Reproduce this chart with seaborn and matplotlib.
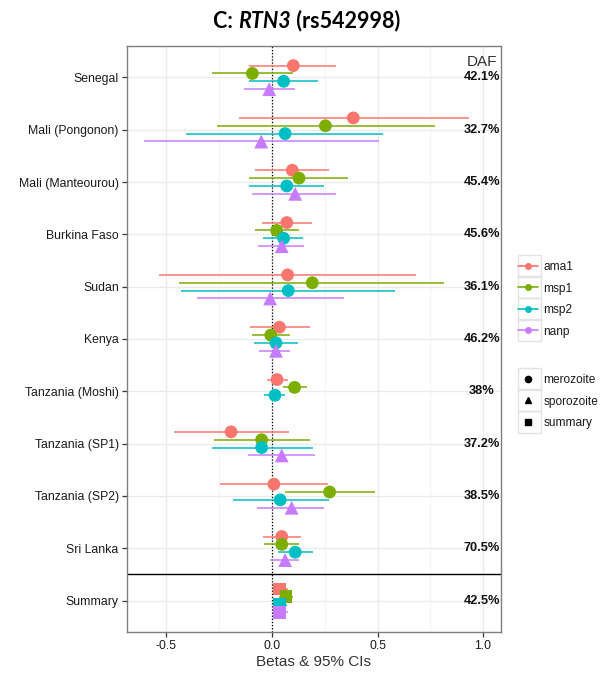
import numpy as np
import pandas as pd
import matplotlib
matplotlib.use("Agg")
import matplotlib.pyplot as plt
from matplotlib.lines import Line2D
from matplotlib.patches import Rectangle
import seaborn as sns

nan = np.nan

populations = ["Senegal", "Mali (Pongonon)", "Mali (Manteourou)", "Burkina Faso", "Sudan",
               "Kenya", "Tanzania (Moshi)", "Tanzania (SP1)", "Tanzania (SP2)", "Sri Lanka",
               "Summary"]
daf = ["42.1%", "32.7%", "45.4%", "45.6%", "36.1%", "46.2%", "38%", "37.2%", "38.5%",
       "70.5%", "42.5%"]
antigens = ["ama1", "msp1", "msp2", "nanp"]
stages = ["merozoite", "sporozoite", "summary"]

ama1_beta = [0.101, 0.385, 0.096, 0.070, 0.074, 0.035, 0.024, -0.194, 0.009, 0.046, 0.036]
ama1_lo = [-0.107, -0.156, -0.079, -0.047, -0.535, -0.103, -0.022, -0.466, -0.245, -0.041, 0.006]
ama1_hi = [0.303, 0.932, 0.272, 0.188, 0.682, 0.178, 0.074, 0.082, 0.267, 0.136, 0.074]

msp1_beta = [-0.093, 0.253, 0.128, 0.022, 0.191, -0.006, 0.107, -0.049, 0.273, 0.046, 0.065]
msp1_lo = [-0.286, -0.259, -0.107, -0.081, -0.439, -0.096, 0.051, -0.273, 0.062, -0.036, 0.032]
msp1_hi = [0.101, 0.771, 0.359, 0.129, 0.817, 0.087, 0.164, 0.178, 0.488, 0.128, 0.101]

msp2_beta = [0.055, 0.062, 0.070, 0.055, 0.077, 0.019, 0.014, -0.049, 0.039, 0.110, 0.036]
msp2_lo = [-0.110, -0.406, -0.110, -0.043, -0.430, -0.084, -0.038, -0.283, -0.185, 0.028, 0.006]
msp2_hi = [0.216, 0.524, 0.248, 0.147, 0.581, 0.125, 0.060, 0.193, 0.272, 0.193, 0.070]

nanp_beta = [-0.013, -0.051, 0.110, 0.046, -0.009, 0.019, nan, 0.046, 0.093, 0.062, 0.036]
nanp_lo = [-0.134, -0.605, -0.093, -0.065, -0.355, -0.062, nan, -0.115, -0.070, -0.008, 0.006]
nanp_hi = [0.110, 0.507, 0.303, 0.152, 0.340, 0.087, nan, 0.202, 0.248, 0.128, 0.078]

# long table
rows = []
series = {"ama1": (ama1_beta, ama1_lo, ama1_hi), "msp1": (msp1_beta, msp1_lo, msp1_hi),
          "msp2": (msp2_beta, msp2_lo, msp2_hi), "nanp": (nanp_beta, nanp_lo, nanp_hi)}
for ant in antigens:
    b, lo, hi = series[ant]
    for i, pop in enumerate(populations):
        if pop == "Summary":
            st = "summary"
        elif ant == "nanp":
            st = "sporozoite"
        else:
            st = "merozoite"
        rows.append(dict(population=pop, antigen=ant, beta=b[i], lo=lo[i], hi=hi[i], stage=st))
df = pd.DataFrame(rows).dropna()

offsets = {"ama1": -0.225, "msp1": -0.075, "msp2": 0.075, "nanp": 0.225}
df["ypos"] = df["population"].map({p: i for i, p in enumerate(populations)}) + df["antigen"].map(offsets)

colors = dict(zip(antigens, ["#F8766D", "#7CAE00", "#00BFC4", "#C77CFF"]))
markers = {"merozoite": "o", "sporozoite": "^", "summary": "s"}
msize = {"merozoite": 85, "sporozoite": 100, "summary": 80}

sns.set_theme(style="whitegrid")
plt.rcParams["font.family"] = ["Liberation Sans", "DejaVu Sans"]
plt.rcParams["text.color"] = "#1a1a1a"

fig = plt.figure(figsize=(6.05, 6.82), dpi=100)
ax = fig.add_axes([127 / 605, 1 - 632 / 682, 374 / 605, 586 / 682])
ax.set_facecolor("white")

# error bars
for ant in antigens:
    sub = df[df["antigen"] == ant]
    ax.hlines(sub["ypos"], sub["lo"], sub["hi"], color=colors[ant], lw=1.1, zorder=2)

for st in stages:
    sub = df[df["stage"] == st]
    sns.scatterplot(data=sub, x="beta", y="ypos", hue="antigen", palette=colors,
                    marker=markers[st], s=msize[st], linewidth=0, legend=False,
                    ax=ax, zorder=3)

ax.axvline(0, color="black", ls=(0, (1, 1.5)), lw=0.9, zorder=1.5)
ax.axhline(9.5, color="black", lw=1.0, zorder=1.5)

for i, d in enumerate(daf):
    ax.text(0.995, i, d, ha="center", va="center", fontweight="bold", fontsize=9.2,
            color="#111111", zorder=4)
ax.text(0.995, -0.3, "DAF", ha="center", va="center", fontsize=11, color="#333333")

ax.set_xlim(-0.687, 1.085)
ax.set_ylim(10.6, -0.6)
ax.set_xticks([-0.5, 0.0, 0.5, 1.0])
ax.set_xticklabels(["-0.5", "0.0", "0.5", "1.0"])
ax.set_xticks([-0.25, 0.25, 0.75], minor=True)
ax.set_yticks(range(len(populations)))
ax.set_yticklabels(populations)
ax.grid(which="major", color="#ebebeb", lw=1.0)
ax.grid(which="minor", axis="x", color="#f5f5f5", lw=0.8)
ax.set_axisbelow(True)
ax.tick_params(axis="both", which="major", length=3.5, width=0.9, color="#333333",
               labelsize=8.8, labelcolor="#1a1a1a", pad=2.5, left=True, bottom=True)
ax.tick_params(axis="x", which="minor", length=0)
for sp in ax.spines.values():
    sp.set_color("#7f7f7f")
    sp.set_linewidth(1.0)
ax.set_xlabel("Betas & 95% CIs", fontsize=11, color="#333333", labelpad=2)
ax.set_ylabel("")

# legends
h1 = [Line2D([], [], color=colors[a], marker="o", markersize=4, lw=1.2) for a in antigens]
leg1 = fig.legend(h1, antigens, loc="upper left", bbox_to_anchor=(512 / 605, 1 - 255 / 682),
                  frameon=False, fontsize=8.6, handlelength=1.7, handletextpad=0.45,
                  labelspacing=0.8, borderpad=0)
h2 = [Line2D([], [], color="black", marker=markers[s], markersize=4.5, lw=0) for s in stages]
leg2 = fig.legend(h2, stages, loc="upper left", bbox_to_anchor=(512 / 605, 1 - 368 / 682),
                  frameon=False, fontsize=8.6, handlelength=1.7, handletextpad=0.45,
                  labelspacing=0.8, borderpad=0)

# title: C: RTN3 (rs542998) with the gene name in italics
tfont = dict(fontsize=15.5, fontweight="bold", family=["Lato", "DejaVu Sans"], color="black")
parts = [("C: ", "normal"), ("RTN3", "italic"), (" (rs542998)", "normal")]
texts = [fig.text(0, 1 - 21 / 682, s, va="center", ha="left", style=sty, **tfont) for s, sty in parts]
fig.canvas.draw()
r = fig.canvas.get_renderer()
widths = [t.get_window_extent(r).width for t in texts]
x0 = 307 - sum(widths) / 2
for t, w in zip(texts, widths):
    t.set_x(x0 / 605)
    x0 += w

# key boxes around legend handles
for leg in (leg1, leg2):
    for h in leg.legend_handles:
        bb = h.get_window_extent(r)
        cy = (bb.y0 + bb.y1) / 2
        fig.add_artist(Rectangle((518 / 605, (cy - 11) / 682), 23 / 605, 22 / 682,
                                 transform=fig.transFigure, fill=False, ec="#e3e3e3", lw=1.0))

fig.savefig("out.png", dpi=100, facecolor="white")
